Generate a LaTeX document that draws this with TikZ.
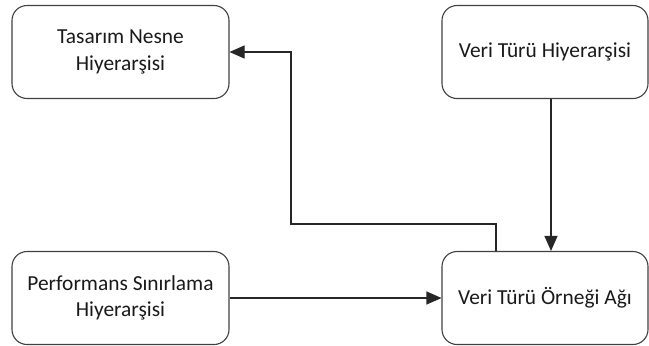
\documentclass[tikz,border=0pt]{standalone}
\usepackage{fontspec}
\setmainfont{Carlito}
\usetikzlibrary{arrows.meta}
\begin{document}
\begin{tikzpicture}[x=0.5pt,y=-0.5pt,
  box/.style={draw=black!75, line width=0.55pt, rounded corners=7.5pt,
    minimum height=46.5pt, align=center, inner sep=2pt,
    font=\fontsize{10.7}{13.2}\selectfont, text=black!90},
  link/.style={draw=black!85, line width=0.55pt,
    -{Triangle[length=7.5pt,width=6.5pt]}}]
\useasboundingbox (0,0) rectangle (649,345);
\node[box, minimum width=108.5pt] (tl) at (120.5,52) {Tasarım Nesne\\Hiyerarşisi};
\node[box, minimum width=103pt] (tr) at (545,52) {Veri Türü Hiyerarşisi};
\node[box, minimum width=108.5pt] (bl) at (120.5,298) {Performans Sınırlama\\Hiyerarşisi};
\node[box, minimum width=103pt] (br) at (545,298) {Veri Türü Örneği Ağı};
\coordinate (bend) at (291,224);
\draw[link] ([xshift=-24.5pt]br.north) |- (bend) |- (tl.east);
\draw[link] ([xshift=3pt]tr.south) -- ([xshift=3pt]br.north);
\draw[link] (bl.east) -- (br.west);
\end{tikzpicture}
\end{document}
